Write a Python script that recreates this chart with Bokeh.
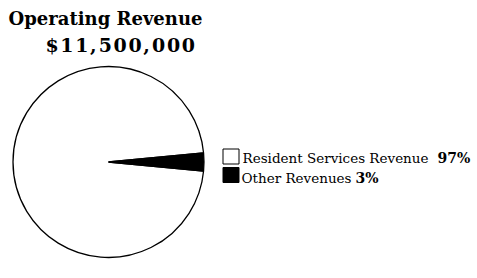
import math
from bokeh.plotting import figure
from bokeh.models import Range1d
from bokeh.core.properties import value
from bokeh.embed import file_html
from bokeh.resources import INLINE

title_lines = ["Operating Revenue", "$11,500,000"]
categories = ["Resident Services Revenue", "Other Revenues"]
shares = [97, 3]
labels = ["97%", "3%"]
fill_colors = ["white", "black"]

W, H = 475, 276

def sy(y):
    return H - y

p = figure(width=W, height=H, output_backend="svg", toolbar_location=None,
           x_range=Range1d(0, W), y_range=Range1d(0, H),
           min_border=0)
p.axis.visible = False
p.grid.visible = False
p.outline_line_color = None

# pie: Other revenue slice centred on the east direction
total = sum(shares)
other_ang = shares[1] / total * 2 * math.pi
starts = [other_ang / 2, -other_ang / 2]
ends = [2 * math.pi - other_ang / 2, other_ang / 2]
cx, cy, r = 108, sy(161.5), 95.5
p.wedge(x=[cx, cx], y=[cy, cy], radius=r, start_angle=starts, end_angle=ends,
        fill_color=fill_colors, line_color="black", line_width=1.3)

# title line 1
p.text(x=[105], y=[sy(18)], text=[title_lines[0]],
       text_font=value("DejaVu Serif"), text_font_style="bold",
       text_font_size="18px", text_align="center", text_baseline="alphabetic",
       text_color="black")

# title line 2, letter-spaced
fs = 19.0
spacing = 1.6
xs, chars = [], []
xpos = 45.0
for ch in title_lines[1]:
    xs.append(xpos)
    chars.append(ch)
    em = 0.38 if ch in ",." else 0.696
    xpos += em * fs + spacing
p.text(x=xs, y=[sy(44.5)] * len(xs), text=chars,
       text_font=value("DejaVu Serif"), text_font_style="bold",
       text_font_size="19px", text_align="left", text_baseline="alphabetic",
       text_color="black")

# legend
box_x = 230.5
box_y = [sy(156), sy(174.5)]
p.rect(x=[box_x, box_x], y=box_y, width=16, height=15,
       fill_color=fill_colors, line_color="black", line_width=1)
p.text(x=[242, 241], y=[sy(157), sy(177)], text=categories,
       text_font=value("DejaVu Serif"), text_font_size="13.5px",
       text_baseline="alphabetic", text_color="black")
p.text(x=[437, 355], y=[sy(157), sy(177)], text=labels,
       text_font=value("DejaVu Serif"), text_font_style="bold",
       text_font_size="14px", text_baseline="alphabetic", text_color="black")

open("out.html", "w").write(file_html(p, INLINE))
